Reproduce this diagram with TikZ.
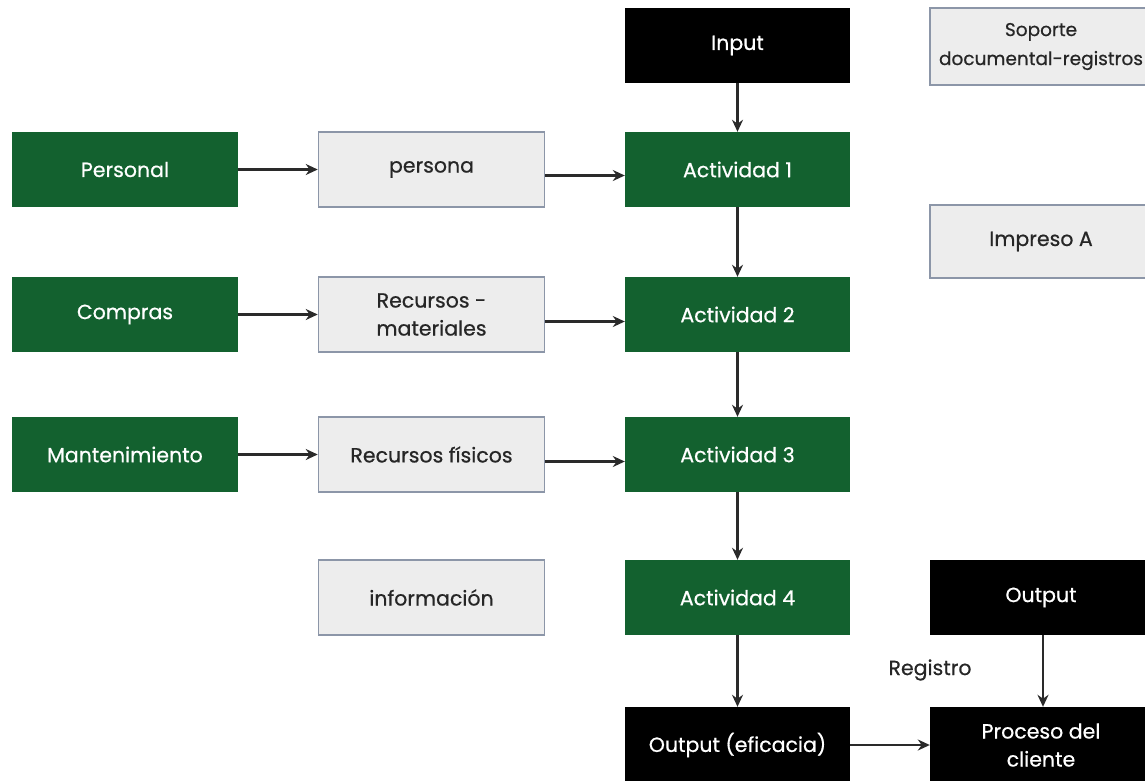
\documentclass[tikz,border=0pt]{standalone}
\usepackage{fontspec}
\setmainfont{Poppins}[Ligatures=NoCommon, FakeBold=0.6]
\usetikzlibrary{arrows.meta}
\definecolor{boxgreen}{HTML}{13612F}
\definecolor{boxgrey}{HTML}{EDEDED}
\definecolor{boxedge}{HTML}{8C96A8}
\definecolor{linegrey}{HTML}{2A2A2A}
\tikzset{
  base/.style={rectangle, minimum height=75pt, inner sep=2pt, align=center,
    font=\fontsize{20.5}{28}\selectfont},
  greenbox/.style={base, fill=boxgreen, text=white, minimum width=226pt},
  blackbox/.style={base, fill=black, text=white, minimum width=225pt},
  greybox/.style={base, fill=boxgrey, draw=boxedge, line width=1.5pt, text=black!85, minimum width=226pt},
  flow/.style={draw=linegrey, line width=2.4pt, -{Stealth[length=12pt,width=11pt]}},
}
\begin{document}
\begin{tikzpicture}[x=1pt,y=-1pt]
\useasboundingbox (0,0) rectangle (1145,780);
% main column
\node[blackbox] (input) at (737.5,45.5) {Input};
\node[greenbox, minimum width=225pt] (a1) at (737.5,169.5) {Actividad 1};
\node[greenbox, minimum width=225pt] (a2) at (737.5,314.5) {Actividad 2};
\node[greenbox, minimum width=225pt] (a3) at (737.5,454.5) {Actividad 3};
\node[greenbox, minimum width=225pt] (a4) at (737.5,597.5) {Actividad 4};
\node[blackbox, minimum height=76pt] (oute) at (737.5,745) {Output (eficacia)};
% resource sources
\node[greenbox] (pers) at (125,169.5) {Personal};
\node[greenbox] (comp) at (125,314.5) {Compras};
\node[greenbox] (mant) at (125,454.5) {Mantenimiento};
% resources
\node[greybox] (persona) at (431.5,169.5) {persona};
\node[greybox] (recm) at (431.5,314.5) {Recursos -\\materiales};
\node[greybox] (recf) at (431.5,454.5) {Recursos físicos};
\node[greybox] (info) at (431.5,597.5) {información};
% right column
\node[greybox, minimum width=222pt, minimum height=77pt, text width=214pt,
  font=\fontsize{18.5}{29}\selectfont] (sop) at (1041,46.5)
  {Soporte\\documental-registros};
\node[greybox, minimum width=222pt, minimum height=73pt] (imp) at (1041,241.5) {Impreso A};
\node[blackbox, minimum width=222pt] (out) at (1041,597.5) {Output};
\node[blackbox, minimum width=222pt, minimum height=76pt] (proc) at (1041,745) {Proceso del\\cliente};
\node[font=\fontsize{20.5}{28}\selectfont, text=black!85] (reg) at (930,670) {Registro};
% connectors
\draw[flow] (input) -- (a1);
\draw[flow] (a1) -- (a2);
\draw[flow] (a2) -- (a3);
\draw[flow] (a3) -- (a4);
\draw[flow] (a4) -- (oute);
\draw[flow] (pers) -- (persona);
\draw[flow] (comp) -- (recm);
\draw[flow] (mant) -- (recf);
\draw[flow] ([yshift=-6pt]persona.east) -- ([yshift=-6pt]a1.west);
\draw[flow] ([yshift=-7pt]recm.east) -- ([yshift=-7pt]a2.west);
\draw[flow] ([yshift=-7pt]recf.east) -- ([yshift=-7pt]a3.west);
\draw[flow] ([xshift=2pt]out.south) -- ([xshift=2pt]proc.north);
\draw[flow] (oute) -- (proc);
\end{tikzpicture}
\end{document}
